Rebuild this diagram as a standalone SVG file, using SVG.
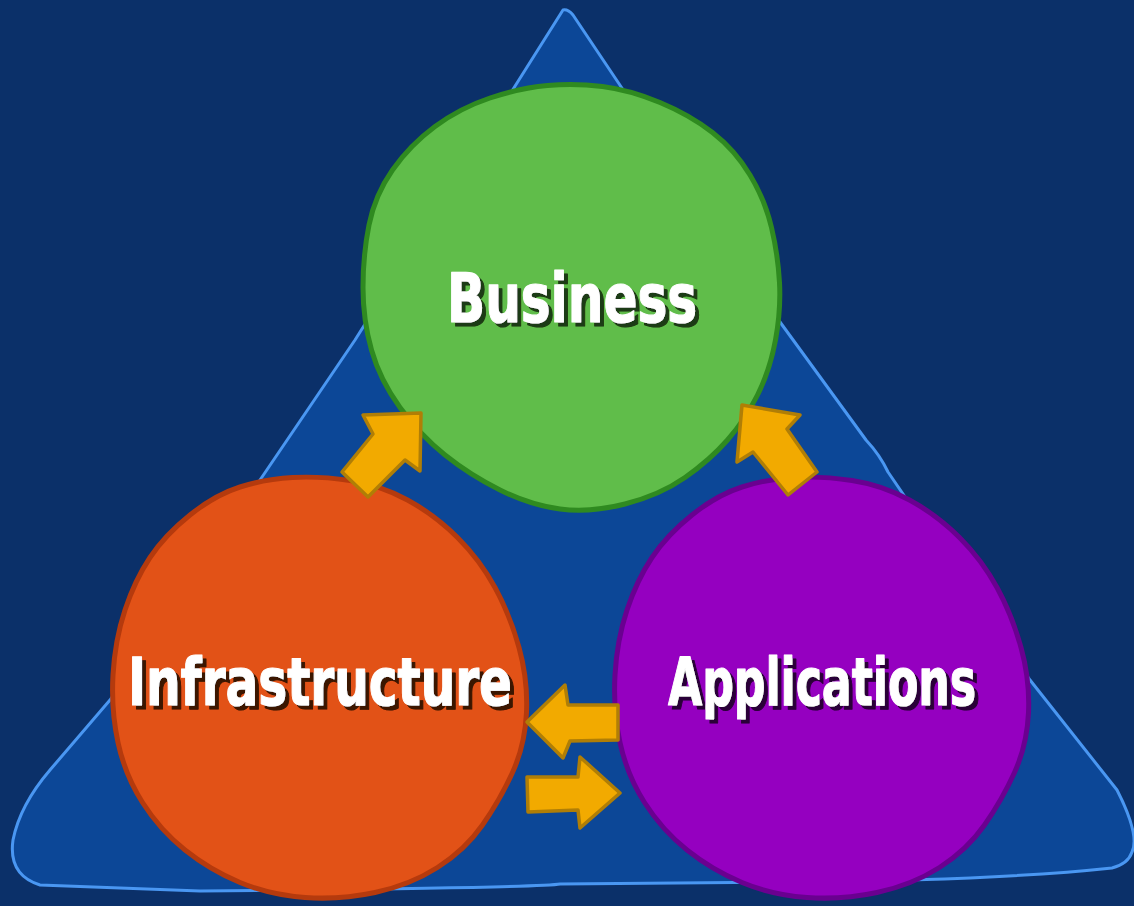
<svg xmlns="http://www.w3.org/2000/svg" width="1134" height="906" viewBox="0 0 1134 906">
<defs>
<filter id="shG" x="-5%" y="-10%" width="115%" height="130%"><feFlood flood-color="#1C3A12"/><feComposite in2="SourceAlpha" operator="in"/><feOffset dx="4" dy="4"/><feMerge><feMergeNode/><feMergeNode in="SourceGraphic"/></feMerge></filter>
<filter id="shO" x="-5%" y="-10%" width="115%" height="130%"><feFlood flood-color="#3A1404"/><feComposite in2="SourceAlpha" operator="in"/><feOffset dx="4" dy="4"/><feMerge><feMergeNode/><feMergeNode in="SourceGraphic"/></feMerge></filter>
<filter id="shP" x="-5%" y="-10%" width="115%" height="130%"><feFlood flood-color="#2A0038"/><feComposite in2="SourceAlpha" operator="in"/><feOffset dx="4" dy="4"/><feMerge><feMergeNode/><feMergeNode in="SourceGraphic"/></feMerge></filter>
</defs>
<style>
.lbl{font-family:"DejaVu Sans","Liberation Sans",sans-serif;font-weight:bold;fill:#ffffff;stroke:#ffffff;stroke-width:1.2;stroke-linejoin:round}
.arrow{fill:#F2AA00;stroke:#B07E06;stroke-width:3.5;stroke-linejoin:round}
.circ{stroke-width:5;stroke-linejoin:round}
</style>
<rect width="1134" height="906" fill="#0B3069"/>
<path id="triangle" d="M563,10 Q568,9 573,15 Q690,190 780,322 L866,440 Q880,455 888,472 L1030,680 L1117,790 Q1140,835 1132,852 Q1128,864 1112,868 Q1000,880 800,882 L560,884 Q545,887 300,890 L200,891 L40,885 Q8,875 13,840 Q20,805 50,770 L110,700 L260,480 L355,340 Z" fill="#0C4797" stroke="#4A97F2" stroke-width="3" stroke-linejoin="round"/>
<g id="business">
<path class="circ" fill="#60BD4A" stroke="#2F8A20" d="M490,98 Q520,88 547.5,85.5 Q575,83 602.5,86.5 Q630,90 660,102.5 Q690,115 712.5,132.5 Q735,150 750,175 Q765,200 771.5,227.5 Q778,255 779.5,282.5 Q781,310 775.5,340 Q770,370 757.5,395 Q745,420 727.5,440 Q710,460 685,477.5 Q660,495 625,504 Q590,513 560,509 Q530,505 500,490 Q470,475 445,455 Q420,435 400,407.5 Q380,380 371.5,350 Q363,320 363,287.5 Q363,255 369,225 Q375,195 392.5,170 Q410,145 435,126.5 Q460,108 490,98 Z"/>
<text class="lbl" x="447" y="322" font-size="68" textLength="250" lengthAdjust="spacingAndGlyphs" filter="url(#shG)">Business</text>
</g>
<g id="infrastructure">
<path id="orangeShape" class="circ" fill="#E25217" stroke="#B53A0D" d="M292.5,477.5 Q320,476 350,480.5 Q380,485 407.5,500 Q435,515 457.5,537.5 Q480,560 495,587.5 Q510,615 519,647.5 Q528,680 526.5,712.5 Q525,745 512.5,772.5 Q500,800 482.5,825 Q465,850 437.5,867.5 Q410,885 375,892.5 Q340,900 305,897.5 Q270,895 240,882.5 Q210,870 185,850 Q160,830 142.5,802.5 Q125,775 118,742.5 Q111,710 113,675 Q115,640 125,610 Q135,580 150,557.5 Q165,535 190,515 Q215,495 240,487 Q265,479 292.5,477.5 Z"/>
<text class="lbl" x="128" y="705" font-size="65" textLength="384" lengthAdjust="spacingAndGlyphs" filter="url(#shO)">Infrastructure</text>
</g>
<g id="applications">
<path class="circ" fill="#9500C0" stroke="#6A0090" transform="translate(502,0)" d="M292.5,477.5 Q320,476 350,480.5 Q380,485 407.5,500 Q435,515 457.5,537.5 Q480,560 495,587.5 Q510,615 519,647.5 Q528,680 526.5,712.5 Q525,745 512.5,772.5 Q500,800 482.5,825 Q465,850 437.5,867.5 Q410,885 375,892.5 Q340,900 305,897.5 Q270,895 240,882.5 Q210,870 185,850 Q160,830 142.5,802.5 Q125,775 118,742.5 Q111,710 113,675 Q115,640 125,610 Q135,580 150,557.5 Q165,535 190,515 Q215,495 240,487 Q265,479 292.5,477.5 Z"/>
<text class="lbl" x="668" y="705" font-size="65" textLength="308" lengthAdjust="spacingAndGlyphs" filter="url(#shP)">Applications</text>
</g>
<g id="connectors">
<path class="arrow" d="M363,415 L421,413 L420,471 L405,460 L368,497 L342,472 L373,434 Z"/>
<path class="arrow" d="M742,405 L800,415 L787,429 L817,472 L788,495 L753,452 L737,462 Z"/>
<path class="arrow" d="M527,722 L565,685 L568,705 L618,705 L618,740 L570,741 L563,758 Z"/>
<path class="arrow" d="M527,777 L578,777 L580,757 L620,793 L580,828 L578,810 L528,812 Z"/>
</g>
</svg>
